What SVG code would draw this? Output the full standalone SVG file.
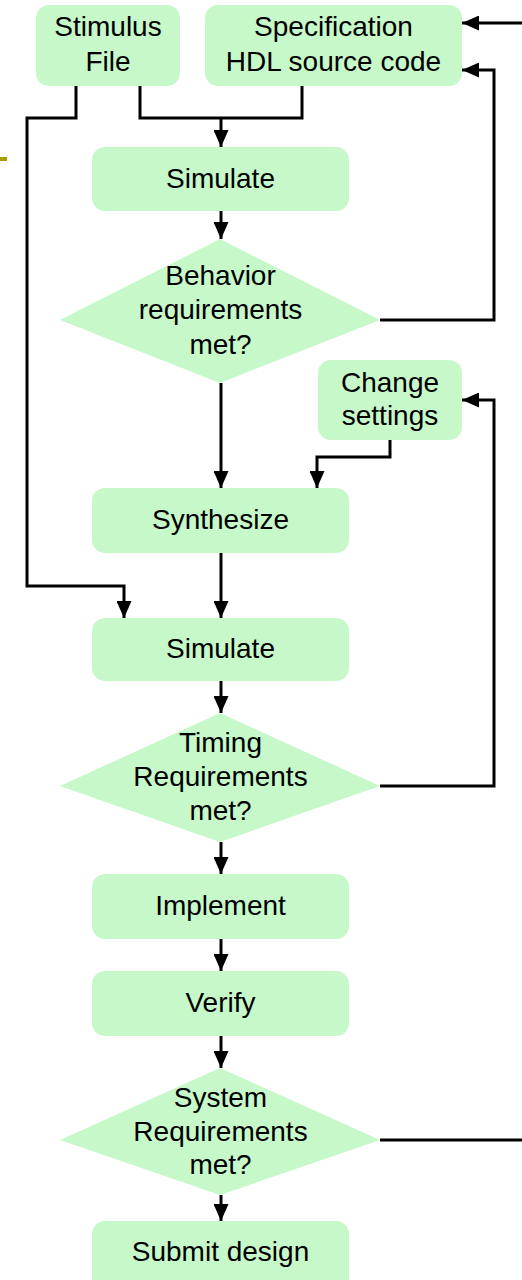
<svg xmlns="http://www.w3.org/2000/svg" width="522" height="1280" viewBox="0 0 522 1280">
<style>
.box{fill:#C6F8C9;stroke:none}
.t{font-family:"Liberation Sans",Arial,sans-serif;font-size:28px;fill:#000;text-anchor:middle}
.c{fill:none;stroke:#000;stroke-width:3}
.a{marker-end:url(#ah)}
</style>
<defs>
<marker id="ah" markerUnits="userSpaceOnUse" markerWidth="17" markerHeight="15" refX="17" refY="7.5" orient="auto">
<path d="M0,0 L17,7.5 L0,15 z" fill="#000"/>
</marker>
</defs>
<rect width="522" height="1280" fill="#fff"/>
<line x1="0" y1="159" x2="7" y2="159" stroke="#A0A000" stroke-width="4"/>
<g id="stimulus"><rect class="box" x="36" y="5" width="144" height="81" rx="13"/><text class="t" x="108" y="36">Stimulus</text><text class="t" x="108" y="71">File</text></g>
<g id="spec"><rect class="box" x="205" y="5" width="257" height="81" rx="13"/><text class="t" x="333.5" y="36">Specification</text><text class="t" x="333.5" y="71">HDL source code</text></g>
<g id="simulate1"><rect class="box" x="92" y="147" width="257" height="64" rx="13"/><text class="t" x="220.5" y="188">Simulate</text></g>
<g id="behavior"><polygon class="box" points="220,239 380,320 220,383 60,320"/><text class="t" x="220.5" y="285">Behavior</text><text class="t" x="220.5" y="319">requirements</text><text class="t" x="220.5" y="354">met?</text></g>
<g id="change"><rect class="box" x="318" y="360" width="144" height="80" rx="13"/><text class="t" x="390" y="392">Change</text><text class="t" x="390" y="425">settings</text></g>
<g id="synthesize"><rect class="box" x="92" y="488" width="257" height="65" rx="13"/><text class="t" x="220.5" y="529">Synthesize</text></g>
<g id="simulate2"><rect class="box" x="92" y="618" width="257" height="63" rx="13"/><text class="t" x="220.5" y="658">Simulate</text></g>
<g id="timing"><polygon class="box" points="220,713 380,786 220,842 60,786"/><text class="t" x="220.5" y="752">Timing</text><text class="t" x="220.5" y="786">Requirements</text><text class="t" x="220.5" y="820">met?</text></g>
<g id="implement"><rect class="box" x="92" y="874" width="257" height="65" rx="13"/><text class="t" x="220.5" y="915">Implement</text></g>
<g id="verify"><rect class="box" x="92" y="971" width="257" height="65" rx="13"/><text class="t" x="220.5" y="1012">Verify</text></g>
<g id="system"><polygon class="box" points="220,1068 380,1140 220,1195 60,1140"/><text class="t" x="220.5" y="1107">System</text><text class="t" x="220.5" y="1141">Requirements</text><text class="t" x="220.5" y="1174">met?</text></g>
<g id="submit"><rect class="box" x="92" y="1221" width="257" height="75" rx="13"/><text class="t" x="220.5" y="1261">Submit design</text></g>
<g id="connectors">
<path class="c" d="M140,86 V118 H302 V86"/>
<path class="c a" d="M221,118 V147"/>
<path class="c a" d="M76,86 V118 H27 V586 H124 V618"/>
<path class="c a" d="M221,211 V239"/>
<path class="c a" d="M380,320 H494 V70 H462"/>
<path class="c a" d="M522,23 H462"/>
<path class="c a" d="M221,383 V488"/>
<path class="c a" d="M390,440 V457 H317 V488"/>
<path class="c a" d="M221,553 V618"/>
<path class="c a" d="M221,681 V713"/>
<path class="c a" d="M380,786 H494 V400 H462"/>
<path class="c a" d="M221,842 V874"/>
<path class="c a" d="M221,939 V971"/>
<path class="c a" d="M221,1036 V1068"/>
<path class="c" d="M380,1140 H522"/>
<path class="c a" d="M221,1195 V1221"/>
</g>
</svg>
